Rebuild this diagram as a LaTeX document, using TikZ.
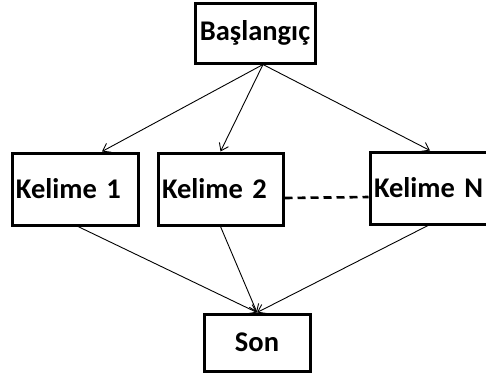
\documentclass[tikz,border=0pt]{standalone}
\usepackage{fontspec}
\setmainfont{Carlito}
\usetikzlibrary{arrows.meta}
\begin{document}
\begin{tikzpicture}[x=1pt,y=-1pt,
  box/.style={draw=black,line width=3pt,rectangle,inner sep=0pt,
    font=\fontsize{28.5}{32}\selectfont\bfseries},
  wordbox/.style={box,minimum width=126pt,minimum height=72pt,text width=118pt,align=left},
  arr/.style={line width=0.9pt,-{Straight Barb[length=7pt,width=10pt,line width=0.9pt]}},
  dash line/.style={line width=2.6pt,dash pattern=on 8pt off 5pt}]
\useasboundingbox (0,0) rectangle (486,376);
\node[box,minimum width=120pt,minimum height=60pt] (bas) at (255,33) {Başlangıç};
\node[wordbox] (k1) at (75,189) {Kelime 1};
\node[wordbox,minimum width=125pt,text width=117pt] (k2) at (220.5,189) {Kelime 2};
\node[wordbox] (kN) at (433,188) {Kelime N};
\node[box,minimum width=106pt,minimum height=57pt] (son) at (257,342.5) {Son};
\coordinate (bs) at ([xshift=8pt]bas.south);
\coordinate (k1t) at ([xshift=27pt]k1.north);
\coordinate (kNt) at ([xshift=-3pt]kN.north);
\coordinate (k1b) at ([xshift=3pt]k1.south);
\coordinate (kNb) at ([xshift=-5pt]kN.south);
\draw[arr] (bs) -- (k1t);
\draw[arr] (bs) -- (k2.north);
\draw[arr] (bs) -- (kNt);
\draw[arr] (k1b) -- (son.north);
\draw[arr] (k2.south) -- (son.north);
\draw[arr] (kNb) -- (son.north);
\draw[dash line] ([yshift=-9pt]k2.east) -- ([yshift=-9pt]kN.west);
\end{tikzpicture}
\end{document}
